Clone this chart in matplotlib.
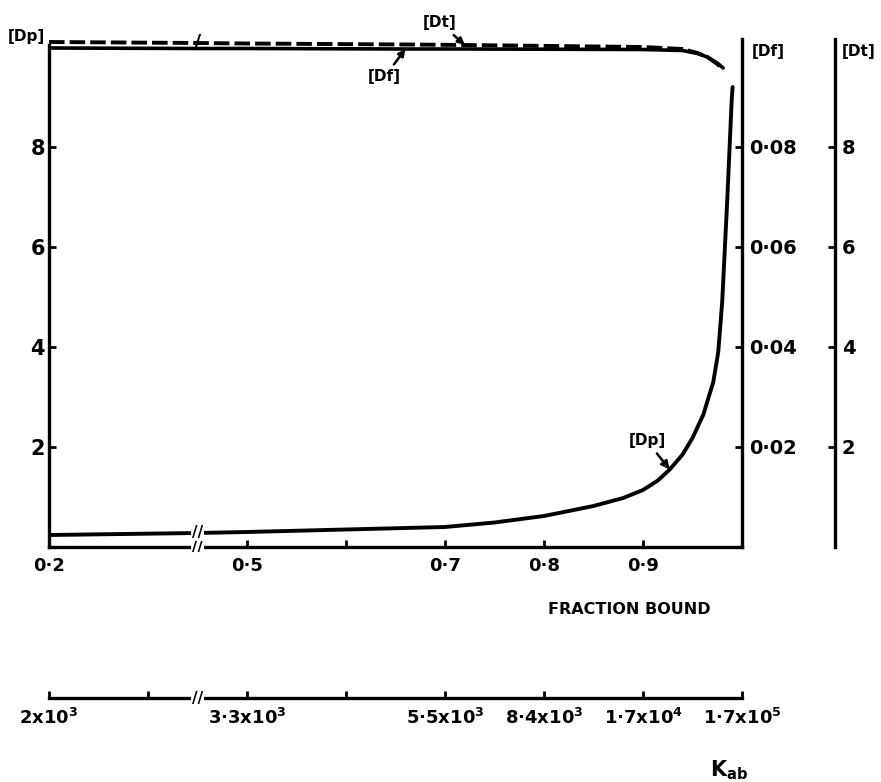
import numpy as np
import matplotlib
matplotlib.use("Agg")
import matplotlib.pyplot as plt

plt.rcParams['font.family'] = ['DejaVu Sans']
plt.rcParams['font.weight'] = 'bold'
plt.rcParams['mathtext.default'] = 'bf'

# [Dp] vs fraction bound (left axis)
frac_dp = [0.2, 0.425, 0.5, 0.6, 0.7, 0.75, 0.8, 0.85, 0.88, 0.9, 0.915, 0.927, 0.94,
           0.95, 0.961, 0.971, 0.976, 0.980, 0.985, 0.9875, 0.9895, 0.9905]
dp = [0.24, 0.28, 0.30, 0.35, 0.40, 0.49, 0.62, 0.82, 0.98, 1.14, 1.33, 1.55, 1.85,
      2.18, 2.65, 3.3, 3.9, 4.9, 6.9, 8.0, 8.9, 9.2]

# [Df] (solid, right axis) and [Dt] (dashed, far right axis)
frac_top = [0.2, 0.425, 0.5, 0.66, 0.72, 0.9, 0.94, 0.955, 0.965, 0.975, 0.981]
df = [0.0998, 0.0997, 0.0997, 0.0996, 0.0996, 0.0995, 0.0993, 0.0987, 0.0980, 0.0968, 0.0958]
dt = [10.1, 10.08, 10.07, 10.05, 10.04, 10.0, 9.96, 9.88, 9.8, 9.66, 9.54]

frac_ticks = [0.2, 0.5, 0.6, 0.7, 0.8, 0.9]
frac_labels = ['0·2', '0·5', '', '0·7', '0·8', '0·9']
kab_ticks = [0.2, 0.35, 0.5, 0.6, 0.7, 0.8, 0.9, 1.0]
kab_labels = ['2x10$^3$', '', '3·3x10$^3$', '', '5·5x10$^3$', '8·4x10$^3$',
              '1·7x10$^4$', '1·7x10$^5$']
left_ticks = [2, 4, 6, 8]
df_ticks = [0.02, 0.04, 0.06, 0.08]
df_labels = ['0·02', '0·04', '0·06', '0·08']
brk = 0.425


def fwd(f):
    f = np.asarray(f, float)
    return np.where(f < 0.5, 0.5 - (0.5 - f) * 2 / 3, f)


def inv(p):
    p = np.asarray(p, float)
    return np.where(p < 0.5, 0.5 - (0.5 - p) * 1.5, p)


def break_mark(a, x, y, trans, size=11):
    a.text(x, y, '//', transform=trans, ha='center', va='center', fontsize=size,
           fontweight='bold', zorder=10,
           bbox=dict(fc='white', ec='none', pad=0.5))


fig = plt.figure(figsize=(8.81, 7.82), dpi=100)
L, W = 49 / 881, 693 / 881
ax = fig.add_axes([L, 1 - 547 / 782, W, 507.5 / 782])
ax.set_xscale('function', functions=(fwd, inv))
ax.set_xlim(0.2, 1.0)
ax.set_ylim(0, 10.15)

for s in ['top', 'right']:
    ax.spines[s].set_visible(False)
for s in ['left', 'bottom']:
    ax.spines[s].set_linewidth(2.4)
ax.spines['left'].set_bounds(0, 10.05)

ax.plot(frac_dp, dp, color='k', lw=2.8, solid_capstyle='round', solid_joinstyle='round')
ax.set_xticks(frac_ticks)
ax.set_xticklabels(frac_labels)
ax.set_yticks(left_ticks)
ax.set_yticklabels([str(t) for t in left_ticks])
ax.tick_params(axis='x', direction='in', length=5, width=2, labelsize=13, pad=7)
ax.tick_params(axis='y', direction='in', length=5, width=2, labelsize=15, pad=3)
ax.set_xlabel('FRACTION BOUND', fontsize=11.5, fontweight='bold', ha='center', va='top')
ax.xaxis.set_label_coords(0.838, -0.108)
ax.text(-0.006, 1.005, '[Dp]', transform=ax.transAxes, ha='right', va='center', fontsize=11)

ax.annotate('[Dp]', xy=(frac_dp[11], dp[11]), xytext=(0.904, 2.12), ha='center', va='center',
            fontsize=11, arrowprops=dict(arrowstyle='-|>', lw=1.8, color='k',
                                         mutation_scale=12, shrinkA=2, shrinkB=0))

break_mark(ax, brk, 0, ax.get_xaxis_transform())
break_mark(ax, brk, dp[1], ax.transData)

# [Df] axis on the right spine
ax2 = ax.twinx()
ax2.set_ylim(0, 0.1015)
for s in ['top', 'left', 'bottom']:
    ax2.spines[s].set_visible(False)
ax2.spines['right'].set_linewidth(2.4)
ax2.plot(frac_top, df, color='k', lw=2.6, solid_capstyle='round')
ax2.set_yticks(df_ticks)
ax2.set_yticklabels(df_labels)
ax2.tick_params(axis='y', direction='in', length=5, width=2, labelsize=14, pad=5)
ax2.text(1.0144, 0.977, '[Df]', transform=ax2.transAxes, ha='left', va='center', fontsize=11)
ax2.annotate('[Df]', xy=(frac_top[3], df[3]), xytext=(0.639, 0.094), ha='center', va='center',
             fontsize=11, annotation_clip=False,
             arrowprops=dict(arrowstyle='-|>', lw=1.8, color='k', mutation_scale=10,
                             shrinkA=2, shrinkB=0))

# [Dt] axis further right
ax3 = ax.twinx()
ax3.set_ylim(0, 10.15)
for s in ['top', 'left', 'bottom']:
    ax3.spines[s].set_visible(False)
ax3.spines['right'].set_position(('axes', 1.134))
ax3.spines['right'].set_linewidth(2.4)
ax3.plot(frac_top, dt, color='k', lw=2.8, dashes=(4, 1.3), clip_on=False)
ax3.set_yticks(left_ticks)
ax3.set_yticklabels([str(t) for t in left_ticks])
ax3.tick_params(axis='y', direction='in', length=5, width=2, labelsize=14, pad=5)
ax3.text(1.144, 0.977, '[Dt]', transform=ax3.transAxes, ha='left', va='center', fontsize=11)
ax3.annotate('[Dt]', xy=(frac_top[4], dt[4]), xytext=(0.695, 10.48), ha='center', va='center',
             fontsize=11, annotation_clip=False,
             arrowprops=dict(arrowstyle='-|>', lw=1.8, color='k', mutation_scale=10,
                             shrinkA=2, shrinkB=0))
ax3.text(brk, dt[1], '/', ha='center', va='center', fontsize=14, fontweight='bold', zorder=10)

# K_ab scale below
kax = fig.add_axes([L, 1 - 698 / 782, W, 0.01])
kax.set_xscale('function', functions=(fwd, inv))
kax.set_xlim(0.2, 1.0)
kax.patch.set_visible(False)
for s in ['top', 'left', 'right']:
    kax.spines[s].set_visible(False)
kax.spines['bottom'].set_linewidth(2.4)
kax.set_yticks([])
kax.set_xticks(kab_ticks)
kax.set_xticklabels(kab_labels)
kax.tick_params(axis='x', direction='in', length=5, width=2, labelsize=13, pad=7)
break_mark(kax, brk, 0, kax.get_xaxis_transform())
fig.text(729 / 881, 1 - 770 / 782, 'K$_{ab}$', ha='center', va='center', fontsize=15)

fig.savefig('out.png', dpi=100)
